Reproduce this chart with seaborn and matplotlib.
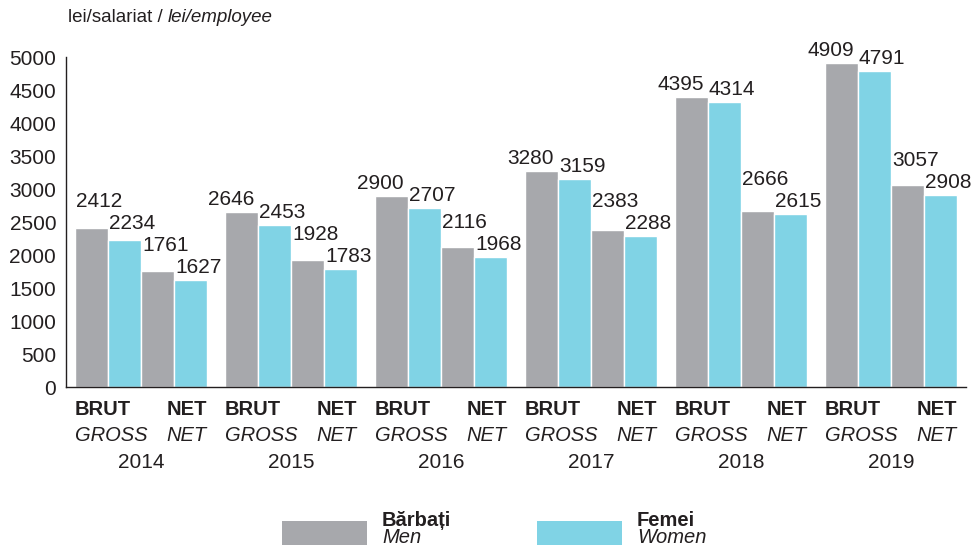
import pandas as pd
import matplotlib.pyplot as plt
import matplotlib.transforms as mtransforms
from matplotlib.patches import Rectangle
import seaborn as sns

# values (lei/employee)
years = ['2014', '2015', '2016', '2017', '2018', '2019']
men_gross = [2412, 2646, 2900, 3280, 4395, 4909]
women_gross = [2234, 2453, 2707, 3159, 4314, 4791]
men_net = [1761, 1928, 2116, 2383, 2666, 3057]
women_net = [1627, 1783, 1968, 2288, 2615, 2908]
y_ticks = list(range(0, 5001, 500))

GRAY = '#A7A8AC'
CYAN = '#80D3E5'
INK = '#231F20'

series = {'men_gross': men_gross, 'women_gross': women_gross,
          'men_net': men_net, 'women_net': women_net}
rows = []
for name, vals in series.items():
    for yr, v in zip(years, vals):
        rows.append({'year': yr, 'series': name, 'value': v})
df = pd.DataFrame(rows)

sns.set_theme(style='white')
plt.rcParams['font.family'] = ['Liberation Sans', 'DejaVu Sans']

fig = plt.figure(figsize=(9.8, 5.45), dpi=100)
ax = fig.add_axes([0.0673, 0.2899, 0.9184, 0.6055])

sns.barplot(data=df, x='year', y='value', hue='series',
            hue_order=list(series.keys()),
            palette=[GRAY, CYAN, GRAY, CYAN], saturation=1,
            width=0.88, edgecolor='white', linewidth=1,
            legend=False, ax=ax)

ax.set_xlim(-0.5, len(years) - 0.5)
ax.set_ylim(0, 5000)
ax.set_yticks(y_ticks)
ax.set_yticklabels([str(t) for t in y_ticks], fontsize=15, color=INK)
ax.set_xticks([i + 0.5 for i in range(len(years))])
ax.set_xticklabels([])
ax.set_xlabel('')
ax.set_ylabel('')
ax.tick_params(axis='both', direction='inout', length=8, width=1, color=INK)
ax.tick_params(axis='y', pad=3)
for s in ['top', 'right']:
    ax.spines[s].set_visible(False)
for s in ['left', 'bottom']:
    ax.spines[s].set_color(INK)
    ax.spines[s].set_linewidth(1)

# value labels: left-aligned over each bar, stepped up so neighbours don't collide
ppy = ax.bbox.height / 5000
ppx = ax.bbox.width / len(years)
gap, step, txt_h = 7 / ppy, 7 / ppy, 15 / ppy
for i in range(len(years)):
    bars = [ax.containers[k][i] for k in range(4)]
    next_left, next_bottom = None, None
    for j in range(3, -1, -1):
        bar = bars[j]
        h = bar.get_height()
        x = bar.get_x() + 1 / ppx
        ha = 'left'
        bottom = h + gap
        if next_bottom is not None:
            clash = next_bottom - step - txt_h < bottom < next_bottom + txt_h + step
            if clash and j == 0 and i > 0:
                x, ha = next_left - 5 / ppx, 'right'
            elif clash:
                bottom = next_bottom + txt_h + step
        ax.text(x, bottom, f'{int(round(h))}', ha=ha, va='baseline',
                fontsize=15, color=INK, clip_on=False)
        next_left, next_bottom = x, bottom

# category labels under each year group
trans = mtransforms.blended_transform_factory(ax.transData, ax.transAxes)
for i, yr in enumerate(years):
    ax.text(i - 0.44, -0.067, 'BRUT', transform=trans, ha='left', va='center',
            fontsize=14.5, fontweight='bold', color=INK)
    ax.text(i + 0.44, -0.067, 'NET', transform=trans, ha='right', va='center',
            fontsize=14.5, fontweight='bold', color=INK)
    ax.text(i - 0.44, -0.148, 'GROSS', transform=trans, ha='left', va='center',
            fontsize=14.5, style='italic', color=INK)
    ax.text(i + 0.44, -0.148, 'NET', transform=trans, ha='right', va='center',
            fontsize=14.5, style='italic', color=INK)
    ax.text(i, -0.230, yr, transform=trans, ha='center', va='center',
            fontsize=15, color=INK)

# unit label at top left
t1 = fig.text(68 / 980, 1 - 18 / 545, 'lei/salariat / ', ha='left', va='center',
              fontsize=13.5, color=INK)
fig.canvas.draw()
bb = t1.get_window_extent()
x2 = fig.transFigure.inverted().transform((bb.x1, bb.y0))[0]
fig.text(x2, 1 - 18 / 545, 'lei/employee', ha='left', va='center',
         fontsize=13.5, style='italic', color=INK)

# legend at the bottom
for x0, col, lab, lab_en in [(282, GRAY, 'Bărbați', 'Men'), (537, CYAN, 'Femei', 'Women')]:
    fig.add_artist(Rectangle((x0 / 980, 0), 85 / 980, 24 / 545,
                             transform=fig.transFigure, facecolor=col, edgecolor='none'))
    fig.text((x0 + 100) / 980, 1 - 526 / 545, lab, ha='left', va='baseline',
             fontsize=14.5, fontweight='bold', color=INK)
    fig.text((x0 + 100) / 980, 1 - 543 / 545, lab_en, ha='left', va='baseline',
             fontsize=14.5, style='italic', color=INK)

fig.savefig('out.png', dpi=100)
